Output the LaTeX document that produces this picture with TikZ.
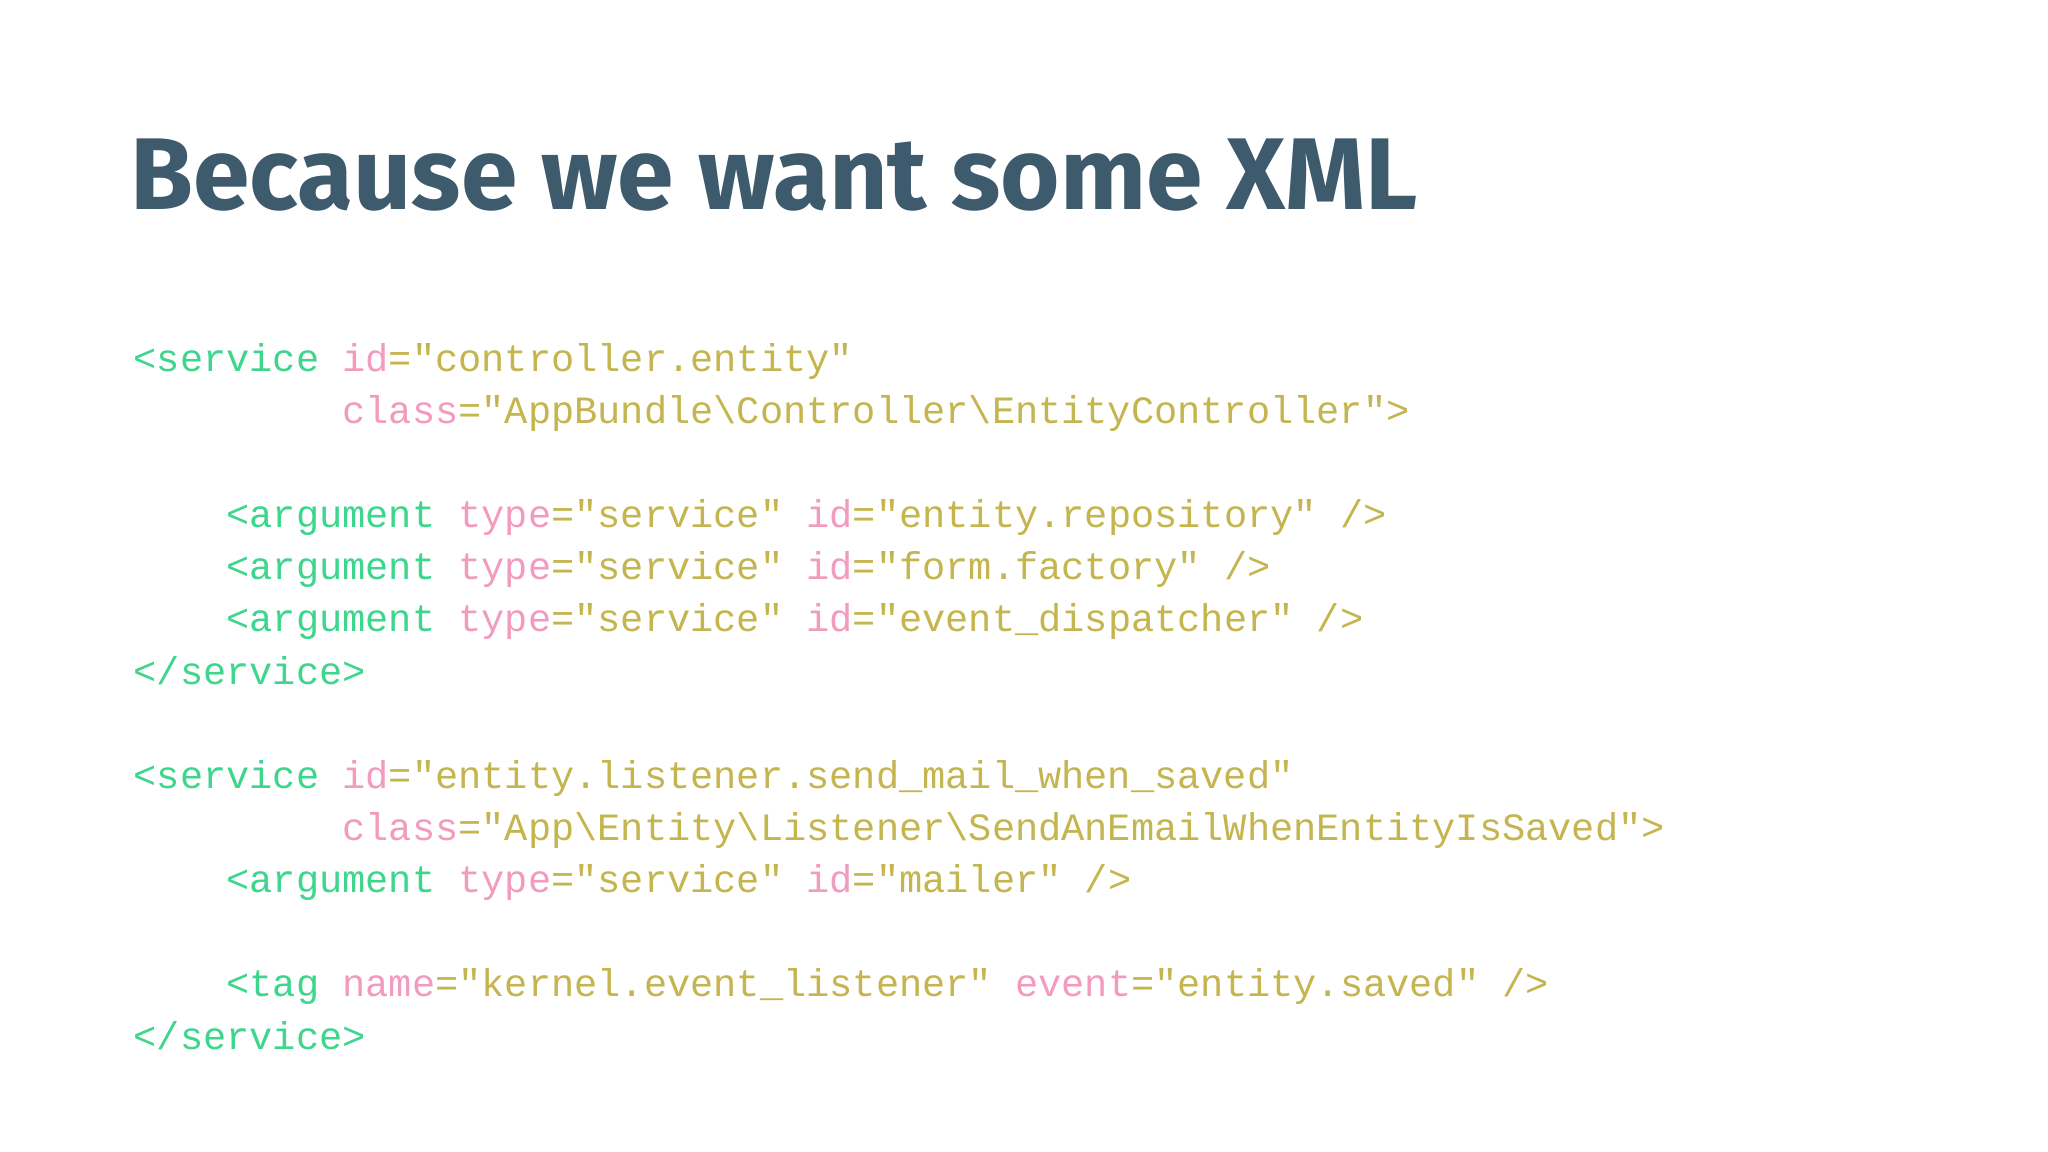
\documentclass[tikz,border=0pt]{standalone}
\usepackage{fontspec}
\setmainfont{Liberation Sans}
\newfontfamily\codefont{Liberation Mono}
\newfontfamily\titlefont{Fira Sans}
\definecolor{tgc}{HTML}{3DD68C}
\definecolor{atc}{HTML}{F29BBE}
\definecolor{stc}{HTML}{C4B54E}
\definecolor{ttl}{HTML}{3E5A6D}
\newcommand{\tg}[1]{\textcolor{tgc}{#1}}
\newcommand{\at}[1]{\textcolor{atc}{#1}}
\newcommand{\st}[1]{\textcolor{stc}{#1}}
\newcommand{\bs}{\textbackslash}
\begin{document}
\begin{tikzpicture}[x=1cm,y=1cm,
  code/.style={anchor=base west,inner sep=0pt,font=\codefont\fontsize{11pt}{13pt}\selectfont}]
\fill[white] (0,0) rectangle (20.48,11.52);
\useasboundingbox (0,0) rectangle (20.48,11.52);
\node[anchor=base west,inner sep=0pt,text=ttl,font=\titlefont\bfseries\fontsize{29pt}{33pt}\selectfont] (title) at (1.30,9.42) {Because we want some XML};
\def\cw{0.232}
\def\lx{1.33}
\node[code] (l1) at (\lx,7.80) {\tg{<service} \at{id}\st{="controller.entity"}};
\node[code] (l2) at (\lx+9*\cw,7.28) {\at{class}\st{="AppBundle\bs Controller\bs EntityController">}};
\node[code] (l3) at (\lx+4*\cw,6.24) {\tg{<argument} \at{type}\st{="service"} \at{id}\st{="entity.repository" />}};
\node[code] (l4) at (\lx+4*\cw,5.72) {\tg{<argument} \at{type}\st{="service"} \at{id}\st{="form.factory" />}};
\node[code] (l5) at (\lx+4*\cw,5.20) {\tg{<argument} \at{type}\st{="service"} \at{id}\st{="event\_dispatcher" />}};
\node[code] (l6) at (\lx,4.67) {\tg{</service>}};
\node[code] (l7) at (\lx,3.63) {\tg{<service} \at{id}\st{="entity.listener.send\_mail\_when\_saved"}};
\node[code] (l8) at (\lx+9*\cw,3.11) {\at{class}\st{="App\bs Entity\bs Listener\bs SendAnEmailWhenEntityIsSaved">}};
\node[code] (l9) at (\lx+4*\cw,2.59) {\tg{<argument} \at{type}\st{="service"} \at{id}\st{="mailer" />}};
\node[code] (l10) at (\lx+4*\cw,1.55) {\tg{<tag} \at{name}\st{="kernel.event\_listener"} \at{event}\st{="entity.saved" />}};
\node[code] (l11) at (\lx,1.02) {\tg{</service>}};
\end{tikzpicture}
\end{document}
